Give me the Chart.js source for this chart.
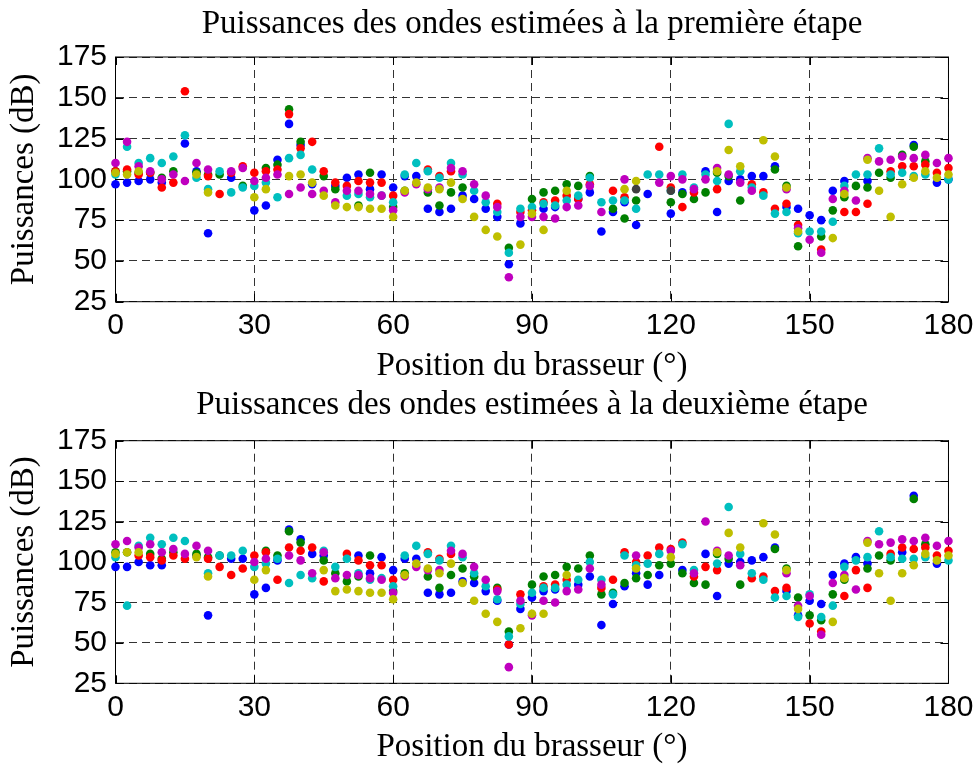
<!DOCTYPE html>
<html><head><meta charset="utf-8">
<script src="https://cdn.jsdelivr.net/npm/chart.js@4/dist/chart.umd.min.js"></script>
<style>
html,body{margin:0;padding:0;background:#fff;width:980px;height:767px;overflow:hidden}
canvas{position:absolute;left:0}
#c1{top:0}
#c2{top:383px}
</style></head><body>
<canvas id="c1" width="980" height="383"></canvas>
<canvas id="c2" width="980" height="384"></canvas>
<script>
// Brasseur positions (degrees)
const positions = [0,2.5,5,7.5,10,12.5,15,17.5,20,22.5,25,27.5,30,32.5,35,37.5,40,42.5,45,47.5,50,52.5,55,57.5,60,62.5,65,67.5,70,72.5,75,77.5,80,82.5,85,87.5,90,92.5,95,97.5,100,102.5,105,107.5,110,112.5,115,117.5,120,122.5,125,127.5,130,132.5,135,137.5,140,142.5,145,147.5,150,152.5,155,157.5,160,162.5,165,167.5,170,172.5,175,177.5,180];
const xTicks = [0,30,60,90,120,150,180];
const yTicks = [25,50,75,100,125,150,175];
const titleTop = "Puissances des ondes estimées à la première étape";
const titleBottom = "Puissances des ondes estimées à la deuxième étape";
const xTitle = "Position du brasseur (°)";
const yTitle = "Puissances (dB)";
const seriesNames = ["Onde 1","Onde 2","Onde 3","Onde 4","Onde 5","Onde 6","Onde 7"];

// ---- première étape ----
const blue1 = [97,98,99,100,98,null,122,105,67,null,
 101,null,81,84,112,134,121,97,null,96,
 101,103,94,103,95,102,102,82,80,82,
 90,88,82,77,48,73,null,82,83,null,
 88,92,68,80,86,72,91,null,79,92,
 null,105,80,99,100,102,102,108,83,82,
 78,75,93,99,null,99,null,null,null,121,
 null,98,100];
const green1 = [105,105,104,104,101,105,null,104,103,103,
 null,96,null,107,109,143,123,null,102,94,
 null,84,104,null,83,93,null,92,84,92,
 95,null,null,null,58,null,88,92,93,97,
 96,102,null,82,76,87,null,null,86,91,
 88,92,104,102,87,null,null,106,96,59,
 null,65,81,89,96,95,104,101,115,120,
 111,null,null];
const red1 = [105,106,103,104,95,98,154,null,102,91,
 104,108,104,105,106,140,119,123,105,98,
 96,99,98,98,90,null,null,106,102,105,
 null,null,null,85,null,80,81,86,87,90,
 88,97,null,93,89,null,null,120,95,83,
 92,null,94,null,null,97,92,82,85,72,
 null,57,null,80,80,85,null,105,108,108,
 109,104,107];
const cyan1 = [103,120,110,113,110,114,127,101,94,105,
 92,95,96,98,89,113,115,106,null,null,
 90,91,89,90,86,103,110,105,101,110,
 103,93,86,80,55,82,83,85,84,87,
 90,101,86,87,87,82,103,103,93,103,
 95,103,99,134,105,95,90,79,80,67,
 68,68,74,96,103,103,119,103,104,102,
 103,null,100];
const magenta1 = [110,123,108,105,100,103,99,110,106,null,
 105,107,99,101,103,91,95,91,93,86,
 93,93,91,90,81,92,97,94,95,107,
 105,97,90,83,40,77,77,77,76,83,
 84,96,80,null,100,null,null,98,102,100,
 94,100,107,103,98,93,null,null,94,70,
 63,55,88,93,87,113,111,112,114,113,
 115,110,113];
const yellow1 = [104,103,105,null,null,null,null,103,92,null,
 null,null,89,94,null,102,103,98,90,84,
 83,83,82,82,77,93,98,95,94,98,
 88,77,69,65,null,60,79,69,null,93,
 null,null,null,null,94,99,null,null,null,null,
 null,null,105,118,108,null,124,114,95,68,
 null,null,64,91,null,112,93,77,97,101,
 105,101,103];
const grey1Pos = [112.5,120];
const grey1 = [94,93];

// ---- deuxième étape ----
const blue2 = [97,97,100,98,98,null,null,104,67,null,
 102,102,80,84,101,120,114,105,104,null,
 null,104,93,103,95,102,102,81,80,81,
 88,87,82,76,49,71,78,82,83,null,
 86,91,61,74,85,93,86,92,null,95,
 null,105,79,99,100,101,103,109,82,67,
 76,74,92,99,103,99,null,null,106,141,
 null,99,null];
const green2 = [106,106,null,105,102,106,null,105,103,104,
 null,null,null,107,104,119,112,null,101,93,
 88,91,104,null,82,93,null,91,84,92,
 96,91,null,84,57,null,86,91,92,97,
 96,104,80,81,87,90,92,98,99,93,
 87,86,105,102,86,null,null,108,96,78,
 67,64,80,89,null,96,104,101,null,139,
 111,null,null];
const red2 = [null,null,104,103,101,104,102,null,102,97,
 92,96,104,106,89,109,107,109,88,null,
 105,101,98,98,89,null,null,106,102,105,
 null,null,null,83,49,80,null,85,86,89,
 null,null,84,89,106,100,104,109,108,112,
 91,97,95,null,null,90,91,82,84,null,
 62,57,null,79,95,84,null,105,109,108,
 109,104,107];
const cyan2 = [103,73,110,115,111,115,113,null,93,104,
 104,107,97,99,102,87,92,90,107,97,
 102,93,89,90,85,104,110,105,101,110,
 103,93,85,77,54,74,81,84,84,86,
 89,100,89,80,104,98,99,105,null,111,
 95,null,99,134,105,93,89,78,79,66,
 80,66,73,97,101,103,119,103,102,102,
 103,null,101];
const magenta2 = [111,113,109,111,106,108,105,110,107,null,
 null,null,100,102,null,104,101,93,106,90,
 92,92,90,89,81,91,97,95,95,107,
 105,97,89,82,35,76,67,76,75,82,
 83,96,86,null,null,104,null,null,107,null,
 93,125,107,104,98,null,null,null,93,73,
 79,55,87,92,83,113,111,112,114,113,
 115,110,113];
const yellow2 = [105,106,106,null,null,null,null,103,91,null,
 null,null,89,95,null,null,null,null,95,82,
 83,82,81,81,77,92,99,96,93,99,
 87,76,68,63,null,59,68,68,null,92,
 null,null,null,null,null,96,null,null,103,null,
 null,null,106,118,109,null,124,117,95,71,
 null,null,63,90,null,112,93,76,93,98,
 105,101,104];
const grey2Pos = [];
const grey2 = [];

const colors = ['rgb(0,0,255)','rgb(0,128,0)','rgb(255,0,0)','rgb(0,191,191)','rgb(191,0,191)','rgb(191,191,0)','rgb(64,64,64)'];
const SERIF = "'Liberation Serif','Times New Roman',serif";
const SANS = "'Liberation Sans',Arial,sans-serif";

const framePlugin = {
  id: 'frame',
  beforeDatasetsDraw(chart) {
    const {ctx, chartArea: a, scales: {x, y}} = chart;
    ctx.save();
    ctx.strokeStyle = '#000';
    ctx.lineWidth = 1;
    ctx.setLineDash([]);
    ctx.strokeRect(a.left, a.top, a.right - a.left, a.bottom - a.top);
    const L = 8;
    ctx.beginPath();
    xTicks.forEach(v => {
      const px = Math.round(x.getPixelForValue(v)) + 0.5;
      ctx.moveTo(px, a.bottom); ctx.lineTo(px, a.bottom - L);
      ctx.moveTo(px, a.top); ctx.lineTo(px, a.top + L);
    });
    yTicks.forEach(v => {
      const py = Math.round(y.getPixelForValue(v)) + 0.5;
      ctx.moveTo(a.left, py); ctx.lineTo(a.left + L, py);
      ctx.moveTo(a.right, py); ctx.lineTo(a.right - L, py);
    });
    ctx.stroke();
    ctx.restore();
  }
};

function makeDatasets(arrs, gPos, gVals) {
  const ds = arrs.map((arr, k) => ({
    label: seriesNames[k],
    data: positions.map((p, i) => ({x: p, y: arr[i]})),
    backgroundColor: colors[k],
    borderColor: colors[k],
    pointRadius: 4.3,
    pointBorderWidth: 0,
    pointHoverRadius: 4.3,
    order: 7 - k,
    clip: false
  }));
  ds.push({
    label: seriesNames[6],
    data: gPos.map((p, i) => ({x: p, y: gVals[i]})),
    backgroundColor: colors[6], borderColor: colors[6],
    pointRadius: 4.3, pointBorderWidth: 0, order: 0, clip: false
  });
  return ds;
}

function makeChart(id, arrs, gPos, gVals, title, g) {
  const titleFont = {family: SERIF, size: 33, weight: 'normal', lineHeight: 1};
  const tickFont = {family: SANS, size: 30, weight: 'normal'};
  return new Chart(document.getElementById(id), {
    type: 'scatter',
    data: {datasets: makeDatasets(arrs, gPos, gVals)},
    options: {
      responsive: false, animation: false, events: [],
      layout: {padding: {left: 0, right: 30, top: 0, bottom: 0}},
      plugins: {
        legend: {display: false},
        tooltip: {enabled: false},
        title: {display: true, text: title, color: '#000', font: titleFont, fullSize: false,
                padding: {top: g.tTop, bottom: g.tBottom}}
      },
      scales: {
        x: {
          type: 'linear', min: 0, max: 180,
          afterBuildTicks: s => { s.ticks = xTicks.map(v => ({value: v})); },
          afterFit: s => { s.height = g.xH; },
          ticks: {color: '#000', font: tickFont, padding: g.xTickPad, maxRotation: 0, autoSkip: false},
          grid: {color: '#333', lineWidth: 1, drawTicks: false},
          border: {display: false, dash: [8, 5]},
          title: {display: true, text: xTitle, color: '#000', font: titleFont, padding: {top: 0, bottom: g.xtB}}
        },
        y: {
          type: 'linear', min: 25, max: 175,
          afterBuildTicks: s => { s.ticks = yTicks.map(v => ({value: v})); },
          afterFit: s => { s.width = 115.5; },
          ticks: {color: '#000', font: tickFont, padding: 8.5, autoSkip: false},
          grid: {color: '#333', lineWidth: 1, drawTicks: false},
          border: {display: false, dash: [8, 5]},
          title: {display: true, text: yTitle, color: '#000', font: titleFont, padding: {top: 7.4, bottom: 0}}
        }
      }
    },
    plugins: [framePlugin]
  });
}

makeChart('c1', [blue1, green1, red1, cyan1, magenta1, yellow1], grey1Pos, grey1, titleTop,
  {tTop: 7.4, tBottom: 16.6, xH: 81.3, xTickPad: 6.5, xtB: 0.3});
makeChart('c2', [blue2, green2, red2, cyan2, magenta2, yellow2], grey2Pos, grey2, titleBottom,
  {tTop: 6.1, tBottom: 18.6, xH: 83.7, xTickPad: 6.5, xtB: 2.7});
</script>
</body></html>
